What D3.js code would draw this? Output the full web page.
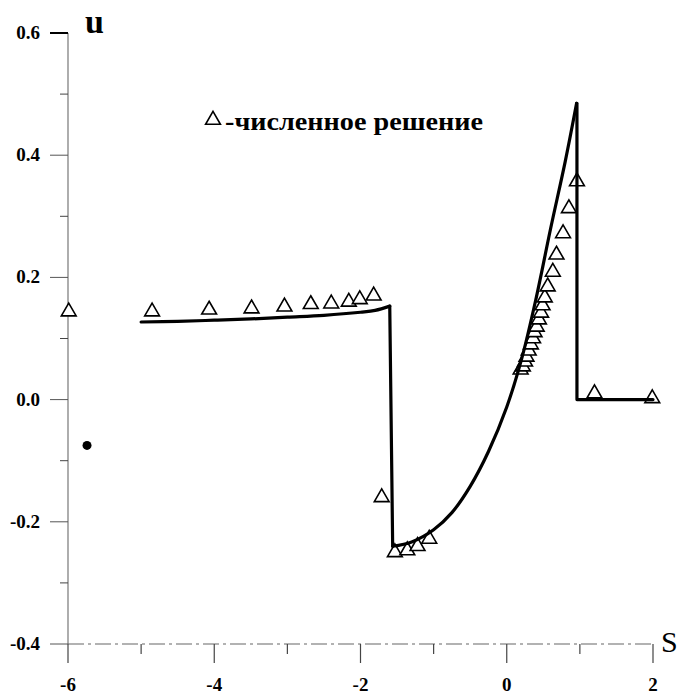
<!DOCTYPE html>
<html>
<head>
<meta charset="utf-8">
<script src="https://cdn.jsdelivr.net/npm/d3@7"></script>
<style>
  body { margin: 0; background: #fff; }
  svg { display: block; }
  text { font-family: 'Liberation Serif', 'Times New Roman', serif; }
</style>
</head>
<body>
<svg id="chart" width="682" height="695"></svg>
<script>
// Data

// solid line: plateau before the first jump
var plateauS = [-5.0, -4.5, -4.0, -3.5, -3.0, -2.5, -2.0, -1.8, -1.6];
var plateauU = [0.127, 0.128, 0.130, 0.132, 0.135, 0.138, 0.143, 0.146, 0.153];

// solid line: the rising branch between the two jumps
var branchS = [-1.56, -1.3, -1.0, -0.75, -0.5, -0.25, 0.0, 0.2, 0.4, 0.6, 0.8, 0.955];
var branchU = [-0.240, -0.233, -0.213, -0.185, -0.142, -0.085, -0.012, 0.065, 0.165, 0.280, 0.390, 0.485];

// solid line: the drop and the tail
var tailS = [0.96, 2.0];
var tailU = [0.0, 0.0];

// triangles: численное решение
var numS = [-5.99, -4.85, -4.07, -3.49, -3.04, -2.68, -2.40, -2.16, -2.01, -1.82,
            -1.71, -1.53, -1.36, -1.22, -1.06,
            0.19, 0.22, 0.25, 0.27, 0.30, 0.33, 0.36, 0.38, 0.41, 0.44, 0.47, 0.49, 0.52, 0.56,
            0.63, 0.68, 0.77, 0.85, 0.96, 1.20, 1.99];
var numU = [0.144, 0.144, 0.147, 0.149, 0.152, 0.156, 0.157, 0.160, 0.164, 0.170,
            -0.160, -0.250, -0.247, -0.240, -0.228,
            0.049, 0.054, 0.062, 0.070, 0.080, 0.090, 0.100, 0.110, 0.119, 0.131, 0.142, 0.154, 0.167, 0.185,
            0.209, 0.237, 0.272, 0.313, 0.357, 0.010, 0.002];

// the lone filled spot near the left axis
var spotS = [-5.74];
var spotU = [-0.075];

var xTicks = [-6, -4, -2, 0, 2];
var xMinor = [-5, -3, -1, 1];
var yTicks = [-0.4, -0.2, 0.0, 0.2, 0.4, 0.6];
var yMinor = [-0.3, -0.1, 0.1, 0.3, 0.5];

var legendText = "-численное решение";

// Grafics
var svg = d3.select('#chart');

var x = d3.scaleLinear().domain([-6, 2]).range([68, 653]);
var y = d3.scaleLinear().domain([-0.4, 0.6]).range([644, 33]);

function pairs(s, u) {
	return s.map(function(d, i) { return [d, u[i]]; });
}

// axes
svg.append('line')
	.attr('x1', x(-6)).attr('x2', x(-6))
	.attr('y1', y(0.6)).attr('y2', y(-0.4))
	.attr('stroke', '#777').attr('stroke-width', 1.2);

svg.append('line')
	.attr('x1', x(-6)).attr('x2', x(2))
	.attr('y1', y(-0.4)).attr('y2', y(-0.4))
	.attr('stroke', '#666').attr('stroke-width', 1.2)
	.attr('stroke-dasharray', '16,4,3,4');

// y ticks (pointing left)
svg.selectAll('.ytick')
	.data(yTicks)
	.enter()
	.append('line')
	.attr('x1', x(-6) - 18).attr('x2', x(-6))
	.attr('y1', d => y(d)).attr('y2', d => y(d))
	.attr('stroke', d => d == 0.6 ? '#000' : '#555')
	.attr('stroke-width', d => d == 0.6 ? 2 : 1);

svg.selectAll('.yminor')
	.data(yMinor)
	.enter()
	.append('line')
	.attr('x1', x(-6) - 8).attr('x2', x(-6))
	.attr('y1', d => y(d)).attr('y2', d => y(d))
	.attr('stroke', '#444').attr('stroke-width', 1);

svg.selectAll('.ylabel')
	.data(yTicks)
	.enter()
	.append('text')
	.attr('x', 40)
	.attr('y', d => y(d) + 6)
	.attr('text-anchor', 'end')
	.style('font-size', '19px')
	.style('font-weight', 'bold')
	.text(d => d.toFixed(1));

// x ticks (pointing down)
svg.selectAll('.xtick')
	.data(xTicks)
	.enter()
	.append('line')
	.attr('x1', d => x(d)).attr('x2', d => x(d))
	.attr('y1', y(-0.4)).attr('y2', y(-0.4) + 19)
	.attr('stroke', '#444').attr('stroke-width', 1.2);

svg.selectAll('.xminor')
	.data(xMinor)
	.enter()
	.append('line')
	.attr('x1', d => x(d)).attr('x2', d => x(d))
	.attr('y1', y(-0.4)).attr('y2', y(-0.4) + 10)
	.attr('stroke', '#444').attr('stroke-width', 1.2);

svg.selectAll('.xlabel')
	.data(xTicks)
	.enter()
	.append('text')
	.attr('x', d => x(d))
	.attr('y', 691)
	.attr('text-anchor', 'middle')
	.style('font-size', '19px')
	.style('font-weight', 'bold')
	.text(d => String(d));

// axis names
svg.append('text')
	.attr('x', 85).attr('y', 33)
	.style('font-size', '34px')
	.style('font-weight', 'bold')
	.text('u');

svg.append('text')
	.attr('x', 661).attr('y', 652)
	.style('font-size', '30px')
	.text('S');

// triangles, white inside
var tri = d3.symbol().type(d3.symbolTriangle).size(95);

svg.selectAll('.num')
	.data(pairs(numS, numU))
	.enter()
	.append('path')
	.attr('d', tri)
	.attr('transform', d => 'translate(' + x(d[0]) + ',' + y(d[1]) + ')')
	.attr('fill', '#fff')
	.attr('stroke', '#000')
	.attr('stroke-width', 1.6);

svg.selectAll('.spot')
	.data(pairs(spotS, spotU))
	.enter()
	.append('circle')
	.attr('cx', d => x(d[0]))
	.attr('cy', d => y(d[1]))
	.attr('r', 4.5)
	.attr('fill', '#000');

// solid line
var smooth = d3.line().x(d => x(d[0])).y(d => y(d[1])).curve(d3.curveCatmullRom);
var straight = d3.line().x(d => x(d[0])).y(d => y(d[1]));

var plateau = pairs(plateauS, plateauU);
var branch = pairs(branchS, branchU);
var tail = pairs(tailS, tailU);

function drawLine(d, gen) {
	svg.append('path')
		.attr('d', gen(d))
		.attr('fill', 'none')
		.attr('stroke', '#000')
		.attr('stroke-width', 3.2)
		.attr('stroke-linejoin', 'round')
		.attr('stroke-linecap', 'round');
}

drawLine(plateau, smooth);
drawLine([plateau[plateau.length - 1], branch[0]], straight);
drawLine(branch, smooth);
drawLine([branch[branch.length - 1], [tail[0][0], branch[branch.length - 1][1]], tail[0], tail[1]], straight);

// legend
svg.append('path')
	.attr('d', tri)
	.attr('transform', 'translate(213,120)')
	.attr('fill', '#fff')
	.attr('stroke', '#000')
	.attr('stroke-width', 1.6);

svg.append('text')
	.attr('x', 225).attr('y', 130)
	.attr('textLength', 258)
	.attr('lengthAdjust', 'spacingAndGlyphs')
	.style('font-size', '26px')
	.style('font-weight', 'bold')
	.text(legendText);
</script>
</body>
</html>
